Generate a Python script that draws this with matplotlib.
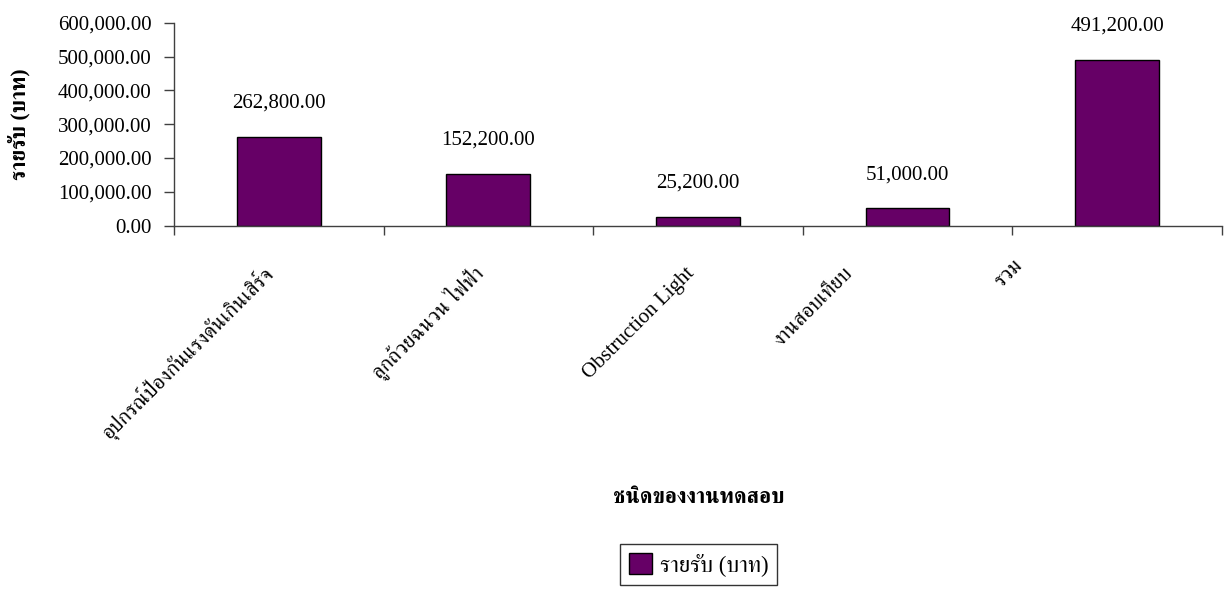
import matplotlib
matplotlib.use("Agg")
import matplotlib.pyplot as plt
from matplotlib.ticker import FuncFormatter, FixedLocator
from matplotlib.transforms import ScaledTranslation

plt.rcParams['font.family'] = ['Liberation Serif', 'FreeSerif']
plt.rcParams['font.size'] = 15

# income per type of test work
categories = ["อุปกรณ์ป้องกันแรงดันเกินเสิร์จ", "ลูกถ้วยฉนวน ไฟฟ้า", "Obstruction Light",
              "งานสอบเทียบ", "รวม"]
income = [262800.00, 152200.00, 25200.00, 51000.00, 491200.00]
series_name = "รายรับ (บาท)"
y_ticks = [0, 100000, 200000, 300000, 400000, 500000, 600000]

# nudges (pixels, right/up) for the slanted category labels
label_shift = [(-4, 0), (-4, 0), (-3, 0), (-54, 0), (-94, 8)]

BAR_COLOR = "#660066"
AXIS_COLOR = "#404040"

fig = plt.figure(figsize=(12.27, 5.90), dpi=100)
ax = fig.add_axes([0.1418, 0.6175, 0.8541, 0.344])

x = list(range(len(categories)))
bars = ax.bar(x, income, width=0.4, color=BAR_COLOR, edgecolor="black",
              linewidth=1.0, label=series_name, zorder=2)

for xi, v in zip(x, income):
    ax.annotate(f"{v:,.2f}", (xi, v), xytext=(0, 21), textcoords="offset points",
                ha="center", va="baseline", color="black")

ax.set_xlim(-0.5, len(categories) - 0.5)
ax.set_ylim(0, 600000)
ax.yaxis.set_major_locator(FixedLocator(y_ticks))
ax.yaxis.set_major_formatter(FuncFormatter(lambda v, p: f"{v:,.2f}"))

# labels sit under bar centres, tick marks on the category boundaries
ax.set_xticks(x)
ax.set_xticks([i - 0.5 for i in range(len(categories) + 1)], minor=True)
ax.tick_params(axis="x", which="major", length=0, pad=35)
ax.tick_params(axis="x", which="minor", length=6.5, width=1, color=AXIS_COLOR, direction="out")
ax.tick_params(axis="y", length=7, width=1, color=AXIS_COLOR, direction="out", pad=9)
ax.set_xticklabels(categories, rotation=45, ha="right", va="baseline",
                   rotation_mode="anchor")
for lab, (dx, dy) in zip(ax.get_xticklabels(), label_shift):
    lab.set_transform(lab.get_transform() +
                      ScaledTranslation(dx / 100.0, dy / 100.0, fig.dpi_scale_trans))

for side in ("top", "right"):
    ax.spines[side].set_visible(False)
for side in ("left", "bottom"):
    ax.spines[side].set_color(AXIS_COLOR)
    ax.spines[side].set_linewidth(1)

fig.text(19 / 1227, 1 - 124 / 590, series_name, rotation=90, ha="center",
         va="center", fontweight="bold", fontsize=15.5)
fig.text(698.5 / 1227, 1 - 498 / 590, "ชนิดของงานทดสอบ", ha="center",
         va="center", fontweight="bold", fontsize=15.5)

leg = fig.legend(handles=[bars], labels=[series_name], loc="upper center",
                 bbox_to_anchor=(698.5 / 1227, 1 - 544 / 590), borderaxespad=0,
                 fancybox=False, shadow=False, frameon=True, fontsize=16.5,
                 handlelength=1.0, handleheight=1.0, handletextpad=0.35,
                 borderpad=0.4)
leg.get_frame().set_edgecolor("black")
leg.get_frame().set_linewidth(1)

fig.savefig("out.png", dpi=100)
